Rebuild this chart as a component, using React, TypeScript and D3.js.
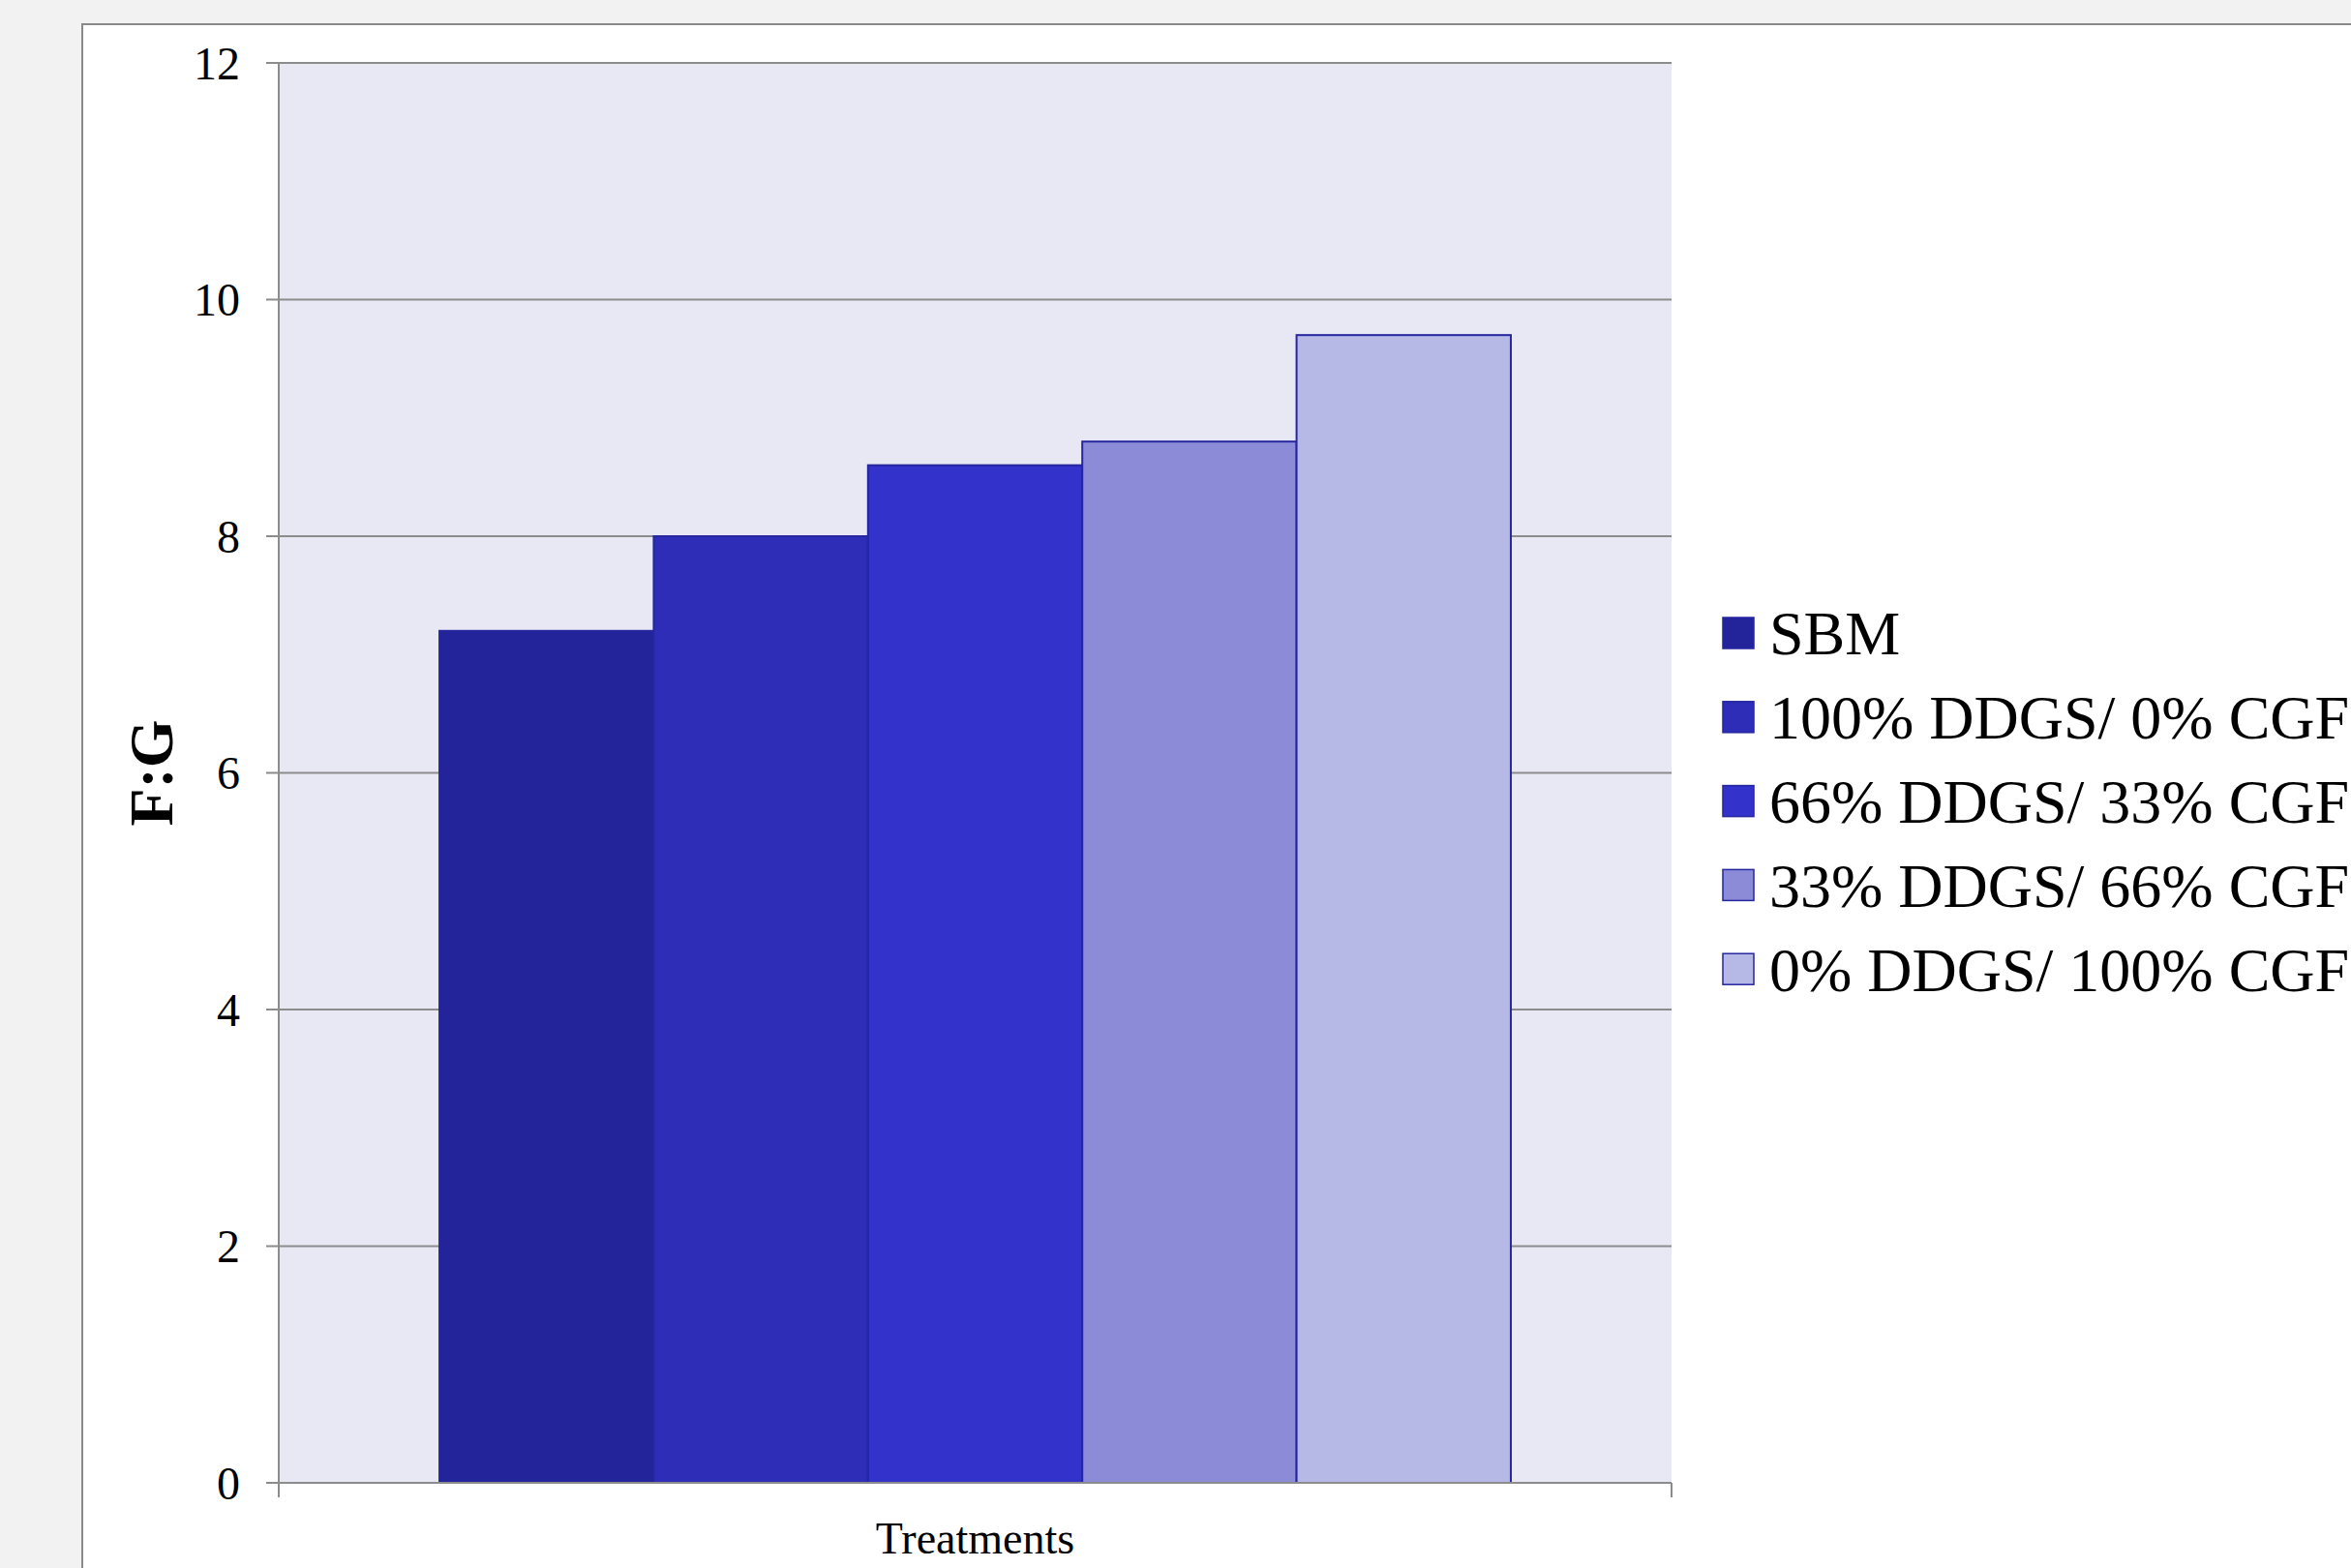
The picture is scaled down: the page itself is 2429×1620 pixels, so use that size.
import React from "react";
import * as d3 from "d3";

// Feed-to-gain ratio by dietary treatment
const seriesNames = [
  "SBM",
  "100% DDGS/ 0% CGF",
  "66% DDGS/ 33% CGF",
  "33% DDGS/ 66% CGF",
  "0% DDGS/ 100% CGF",
];
const seriesValues = [7.2, 8.0, 8.6, 8.8, 9.7];
const seriesColors = ["#23239a", "#2e2db7", "#3333cc", "#8b8bd8", "#b6b8e6"];
const yTicks = [0, 2, 4, 6, 8, 10, 12];
const categoryLabel = "Treatments";
const yLabel = "F:G";

const W = 2429;
const H = 1620;
const plot = { left: 288, right: 1727, top: 65, bottom: 1532 };
const font = "'Liberation Serif', 'Times New Roman', serif";
const barStroke = "#2626a0";

export default function App() {
  const y = d3.scaleLinear().domain([0, 12]).range([plot.bottom, plot.top]);
  const x = d3
    .scaleBand<string>()
    .domain(seriesNames)
    .range([plot.left, plot.right])
    .paddingInner(0)
    .paddingOuter(0.75);

  const legendX = 1780;
  const legendY0 = 654;
  const legendStep = 86.8;
  const sw = 32;

  return (
    <svg
      width={W}
      height={H}
      style={{ position: "fixed", left: 0, top: 0, display: "block" }}
      fontFamily={font}
    >
      <rect x={0} y={0} width={W} height={H} fill="#f2f2f2" />
      {/* chart card */}
      <rect x={85} y={25} width={W} height={H} fill="#ffffff" stroke="#8a8a8a" strokeWidth={2} />

      {/* plot background */}
      <rect
        x={plot.left}
        y={plot.top}
        width={plot.right - plot.left}
        height={plot.bottom - plot.top}
        fill="#e8e8f5"
      />

      {/* gridlines and y ticks */}
      {yTicks.map((t) => (
        <g key={t}>
          <line
            x1={plot.left - 13}
            x2={plot.right}
            y1={y(t)}
            y2={y(t)}
            stroke="#8c8c8c"
            strokeWidth={2}
          />
          <text
            x={248}
            y={y(t)}
            dy="0.35em"
            textAnchor="end"
            fontSize={48}
            fill="#000"
          >
            {t}
          </text>
        </g>
      ))}

      {/* bars */}
      {seriesNames.map((s, i) => (
        <rect
          key={s}
          x={x(s)}
          y={y(seriesValues[i])}
          width={x.bandwidth()}
          height={y(0) - y(seriesValues[i])}
          fill={seriesColors[i]}
          stroke={barStroke}
          strokeWidth={2}
        />
      ))}

      {/* axes */}
      <line x1={plot.left} x2={plot.left} y1={plot.top} y2={plot.bottom + 15} stroke="#8c8c8c" strokeWidth={2} />
      <line x1={plot.left} x2={plot.right} y1={plot.bottom} y2={plot.bottom} stroke="#8c8c8c" strokeWidth={2} />
      <line x1={plot.right} x2={plot.right} y1={plot.bottom} y2={plot.bottom + 15} stroke="#8c8c8c" strokeWidth={2} />

      {/* axis titles */}
      <text
        x={(plot.left + plot.right) / 2}
        y={1589}
        dy="0.35em"
        textAnchor="middle"
        fontSize={46}
        fill="#000"
      >
        {categoryLabel}
      </text>
      <text
        transform={`translate(156, ${(plot.top + plot.bottom) / 2}) rotate(-90)`}
        dy="0.35em"
        textAnchor="middle"
        fontSize={64}
        fontWeight="bold"
        fill="#000"
      >
        {yLabel}
      </text>

      {/* legend */}
      {seriesNames.map((s, i) => {
        const cy = legendY0 + i * legendStep;
        return (
          <g key={s}>
            <rect
              x={legendX}
              y={cy - sw / 2}
              width={sw}
              height={sw}
              fill={seriesColors[i]}
              stroke={barStroke}
              strokeWidth={1.5}
            />
            <text x={1828} y={cy} dy="0.35em" fontSize={64} fill="#000">
              {s}
            </text>
          </g>
        );
      })}
    </svg>
  );
}
